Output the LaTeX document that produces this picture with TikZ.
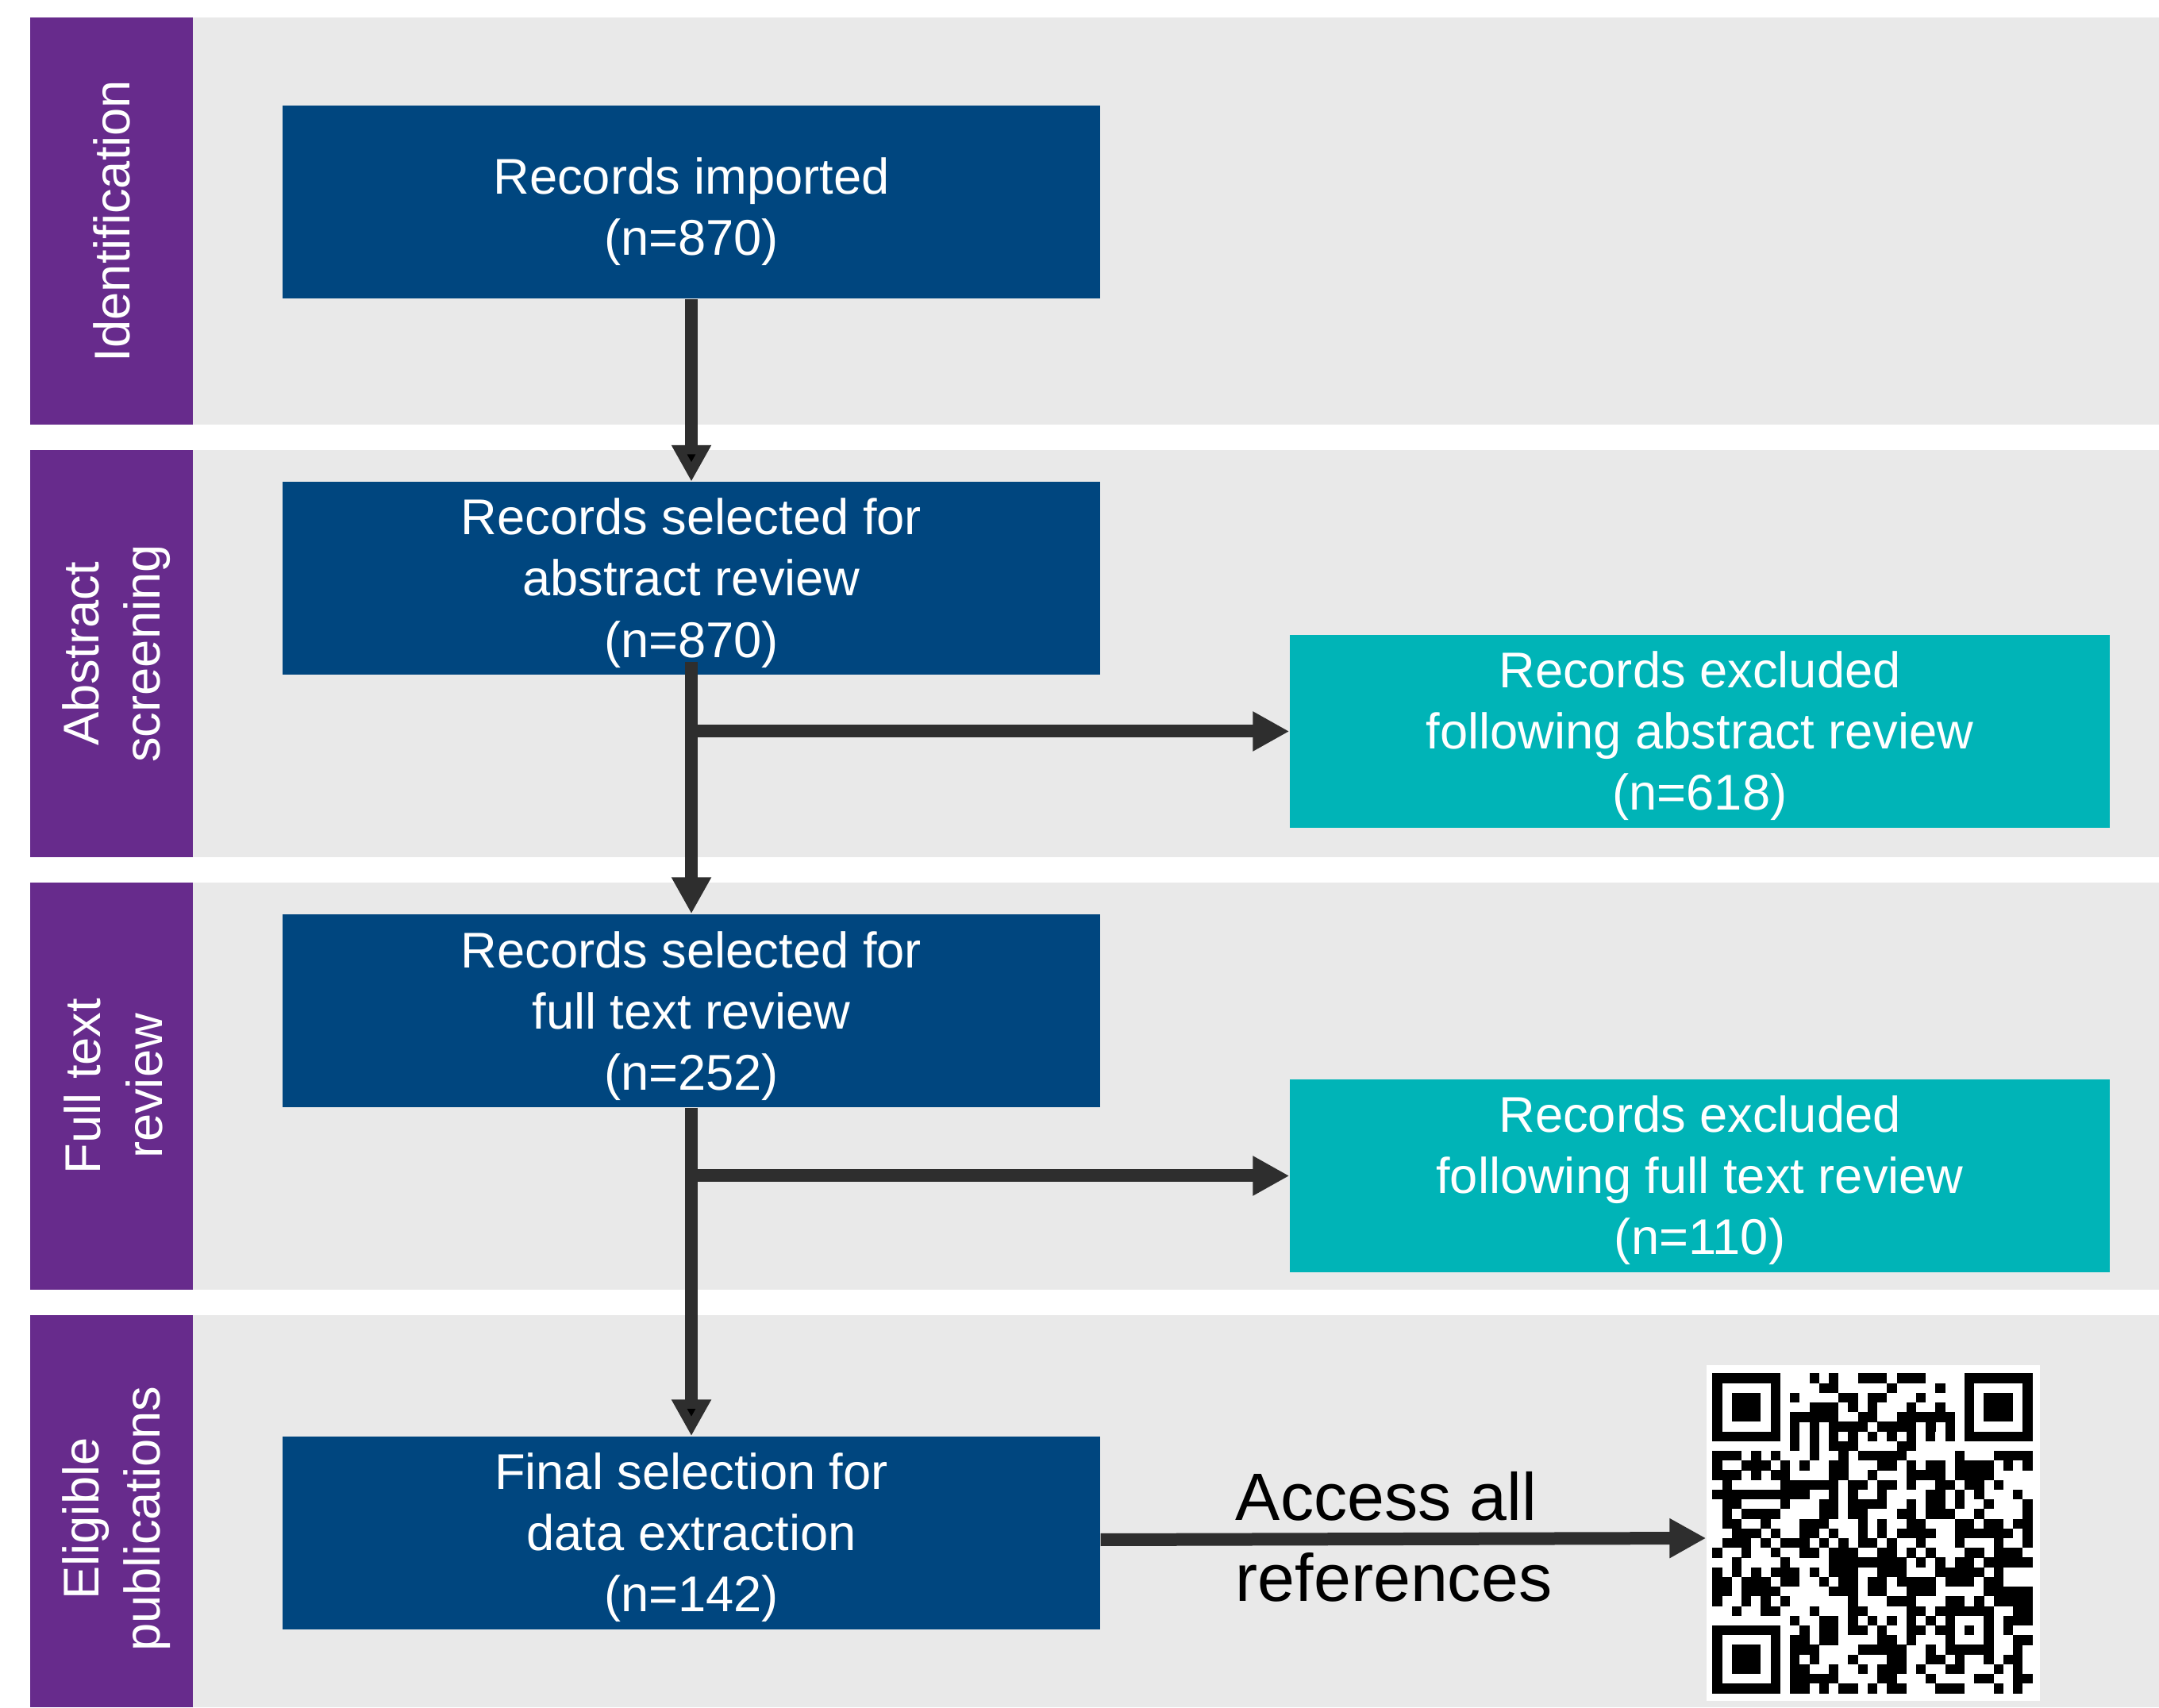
\documentclass[tikz,border=0pt]{standalone}
\usepackage{fontspec}
\setmainfont{Liberation Sans}
\usetikzlibrary{positioning,arrows.meta}
\definecolor{bandgrey}{HTML}{E9E9E9}
\definecolor{stagepurple}{HTML}{672B8C}
\definecolor{recblue}{HTML}{00467F}
\definecolor{exclteal}{HTML}{00B4B7}
\definecolor{arrowgrey}{HTML}{2E2E2E}
\newcommand{\boxstrut}[1][0.57cm]{\rule{0pt}{#1}}

\begin{document}
\begin{tikzpicture}[node distance=4.74cm, on grid]
\tikzstyle{every node}=[font=\fontsize{18}{22}\selectfont]
\tikzstyle{flowbox}=[rectangle, fill=recblue, text=white, minimum width=10.3cm, minimum height=2.43cm, inner sep=0pt, align=center]
\tikzstyle{exclbox}=[flowbox, fill=exclteal, minimum width=10.33cm]
\tikzstyle{stagelab}=[text=white, rotate=90, align=center]
\tikzstyle{flowarrow}=[draw=arrowgrey, line width=0.16cm, -{Triangle[length=0.46cm, width=0.47cm]}]
\tikzstyle{qrbox}=[rectangle, fill=white, minimum width=4.2cm, minimum height=4.23cm, inner sep=0pt]

\useasboundingbox (0,0) rectangle (27.2,21.51);
\fill[white] (0,0) rectangle (27.2,21.51);
% stage bands
\fill[bandgrey] (0.38,16.16) rectangle (27.2,21.29);
\fill[bandgrey] (0.38,10.71) rectangle (27.2,15.84);
\fill[bandgrey] (0.38,5.26) rectangle (27.2,10.39);
\fill[bandgrey] (0.38,0) rectangle (27.2,4.94);
\fill[stagepurple] (0.38,16.16) rectangle (2.43,21.29);
\fill[stagepurple] (0.38,10.71) rectangle (2.43,15.84);
\fill[stagepurple] (0.38,5.26) rectangle (2.43,10.39);
\fill[stagepurple] (0.38,0) rectangle (2.43,4.94);
\node[stagelab] (lab1) at (1.405,18.725) {Identification};
\node[stagelab] (lab2) at (1.465,13.275) {Abstract\\screening};
\node[stagelab] (lab3) at (1.43,7.825) {Full text\\review};
\node[stagelab] (lab4) at (1.465,2.375) {Eligible\\publications};

% records flow
\node[flowbox] (s1) at (8.71,18.96) {\boxstrut[0.69cm]Records imported\\(n=870)};
\node[flowbox] (s2) [below=of s1] {\boxstrut Records selected for\\abstract review\\(n=870)};
\node[flowbox] (s3) [below=5.445cm of s2] {\boxstrut[0.59cm]Records selected for\\full text review\\(n=252)};
\node[flowbox] (s4) [below=6.58cm of s3] {\boxstrut Final selection for\\data extraction\\(n=142)};
\node[exclbox] (x1) [below right=1.925cm and 12.705cm of s2] {\boxstrut Records excluded\\following abstract review\\(n=618)};
\node[exclbox] (x2) [below right=2.08cm and 12.705cm of s3] {\boxstrut Records excluded\\following full text review\\(n=110)};
\node[qrbox] (qr) [right=14.89cm of s4] {};

\path[flowarrow] (s1) edge (s2);
\draw[flowarrow] ([yshift=0.17cm]s2.south) -- (s3);
\path[flowarrow] (s3) edge (s4);
\draw[flowarrow] (s2.south |- x1.west) -- (x1.west);
\draw[flowarrow] (s3.south |- x2.west) -- (x2.west);
\draw[flowarrow] ([yshift=-0.085cm]s4.east) -- node[font=\fontsize{24}{29}\selectfont, align=left, xshift=-0.12cm, yshift=0.03cm] {Access all\\references} ([yshift=-0.065cm]qr.west);

% qr code
\coordinate (qro) at ([xshift=0.08cm, yshift=-0.11cm]qr.north west);
\begin{scope}[shift={(qro)}, x=0.1222cm, y=-0.1222cm]
\foreach \fc/\fr in {0/0, 26/0, 0/26}{
  \fill (\fc,\fr) rectangle ++(7,7);
  \fill[white] (\fc+1,\fr+1) rectangle ++(5,5);
  \fill (\fc+2,\fr+2) rectangle ++(3,3);
}
\fill (24,24) rectangle (29,29);
\fill[white] (25,25) rectangle (28,28);
\fill (26,26) rectangle (27,27);
\foreach \t in {8,10,...,24}{
  \fill (\t,6) rectangle ++(1,1);
  \fill (6,\t) rectangle ++(1,1);
}
\pgfmathsetseed{2718}
\foreach \r in {0,...,32}{
  \foreach \c in {0,...,32}{
    \pgfmathtruncatemacro{\qfix}{((\r<8) && (\c<8)) || ((\r<8) && (\c>24)) || ((\r>24) && (\c<8)) || ((\r>23) && (\r<29) && (\c>23) && (\c<29)) || (\r==6) || (\c==6)}
    \ifnum\qfix=0
      \pgfmathrandominteger{\qbit}{0}{1}
      \ifnum\qbit=1 \fill (\c,\r) rectangle ++(1.01,1.01); \fi
    \fi
  }
}
\end{scope}
\end{tikzpicture}
\end{document}
